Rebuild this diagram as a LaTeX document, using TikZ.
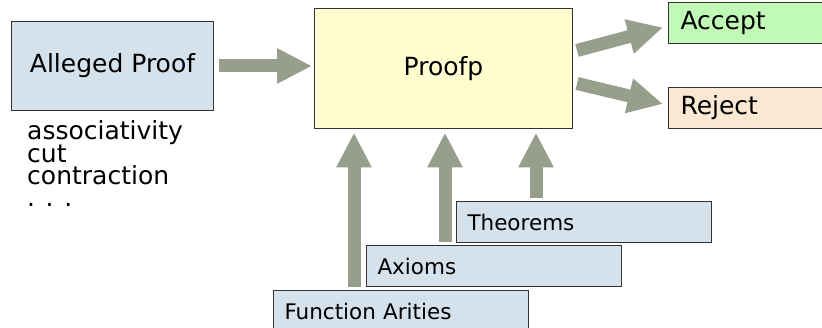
\documentclass[tikz,border=0pt]{standalone}
\usepackage{fontspec}
\setmainfont{DejaVu Sans}
\usetikzlibrary{arrows.meta,positioning}
\definecolor{cBlue}{HTML}{D5E2EB}
\definecolor{cYel}{HTML}{FFFDD0}
\definecolor{cGrn}{HTML}{C0FAB6}
\definecolor{cPch}{HTML}{FAE8D3}
\definecolor{cArr}{HTML}{979F8C}
\definecolor{cEdge}{HTML}{333333}
\newcommand{\bigtxt}{\fontsize{25}{22}\selectfont}
\newcommand{\smalltxt}{\fontsize{21.5}{22}\selectfont}
\tikzset{
  box/.style={draw=cEdge,line width=1pt,inner sep=0pt},
  bigbox/.style={box,font=\bigtxt,align=center,anchor=north west},
  outbox/.style={box,font=\bigtxt,minimum height=41pt,text width=146pt,
              inner xsep=12pt,align=left,anchor=north west},
  srcbox/.style={box,fill=cBlue,font=\smalltxt,minimum height=41pt,
              text width=233pt,inner xsep=11pt,align=left,anchor=north west},
  fat/.style={cArr,line width=13pt,-{Triangle[length=35pt,width=33pt]}},
}
\begin{document}
\begin{tikzpicture}[x=1pt,y=-1pt]
  \clip (0,0) rectangle (822,328);
  \node[bigbox,fill=cBlue,minimum width=202pt,minimum height=89pt](ap) at (11,21){Alleged Proof};
  \node[bigbox,fill=cYel,minimum width=258pt,minimum height=120pt](pf) at (314,8){Proofp};
  \node[outbox,fill=cGrn](ac) at (668,2){Accept};
  \node[outbox,fill=cPch](rj) at (668,87){Reject};
  \node[font=\bigtxt,align=left,inner sep=0pt,below right=9pt and 16pt of ap.south west](rules)
    {associativity\\cut\\contraction\\. . .};
  % inputs, stacked
  \node[srcbox](th) at (456,201){Theorems};
  \node[srcbox,below=2pt of th.south west,anchor=north west,xshift=-90pt](ax){Axioms};
  \node[srcbox,below=3pt of ax.south west,anchor=north west,xshift=-93pt](fa){Function Arities};
  \draw[fat,shorten <=5pt,shorten >=2pt](ap.east)--(ap.east -| pf.west);
  \draw[fat]([shift={(4,-18)}]pf.east)--([shift={(-5,4.5)}]ac.west);
  \draw[fat]([shift={(4,15)}]pf.east)--([shift={(-5,-4)}]rj.west);
  \coordinate(f1) at ([xshift=81pt]fa.north west);
  \coordinate(f2) at ([xshift=79pt]ax.north west);
  \coordinate(f3) at ([xshift=80pt]th.north west);
  \foreach \c in {f1,f2,f3}
    \draw[fat,shorten <=3pt,shorten >=3.5pt](\c)--(\c |- pf.south);
\end{tikzpicture}
\end{document}
